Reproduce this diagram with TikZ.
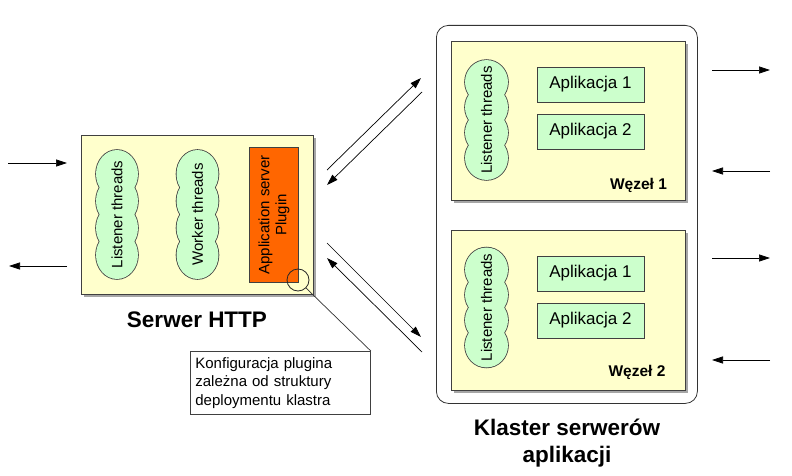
\documentclass[tikz,border=0pt]{standalone}
\usepackage{fontspec}
\setmainfont{Liberation Sans}
\usetikzlibrary{arrows.meta}
\definecolor{boxyellow}{HTML}{FFFFCC}
\definecolor{cloudgreen}{HTML}{CCFFCC}
\definecolor{plugorange}{HTML}{FF6600}
\newcommand{\cloudbg}[5]{%
  \foreach \k in {-1.5,-0.5,0.5,1.5}
    \draw[line width=1.6pt,draw=black!75] (#1,{#2+\k*#5}) ellipse [x radius=#3pt, y radius=#4pt];
  \foreach \k in {-1.5,-0.5,0.5,1.5}
    \fill[cloudgreen] (#1,{#2+\k*#5}) ellipse [x radius=#3pt, y radius=#4pt];
}
\begin{document}
\begin{tikzpicture}[x=1pt,y=-1pt,
  arr/.style={line width=0.7pt,-{Triangle[length=11pt,width=7pt]}},
  panel/.style={draw=black!75,fill=boxyellow,line width=0.8pt,anchor=north west,inner sep=0pt},
  shadowbox/.style={fill=black!35},
  appbox/.style={draw=black!75,fill=cloudgreen,line width=0.8pt,minimum width=107pt,minimum height=35pt,inner sep=0pt,font=\fontsize{17}{20}\selectfont},
  cloudtext/.style={rotate=90,font=\fontsize{15}{18}\selectfont,inner sep=0pt},
  nodelabel/.style={font=\bfseries\fontsize{15.5}{18}\selectfont,inner sep=0pt},
  biglabel/.style={font=\bfseries\fontsize{22.5}{27}\selectfont,align=center,inner sep=0pt}]
\useasboundingbox (0,0) rectangle (792,476);
\fill[white] (0,0) rectangle (792,476);

% cluster outer box
\node[draw=black!80,fill=white,line width=0.8pt,rounded corners=12pt,anchor=north west,minimum width=261pt,minimum height=378pt,inner sep=0pt] (cluster) at (436,25) {};

% shadows
\fill[shadowbox] (84,138) rectangle (316,297);
\fill[shadowbox] (454,44) rectangle (688,203);
\fill[shadowbox] (454,233) rectangle (688,393);

% panels
\node[panel,minimum width=232pt,minimum height=159pt] (http) at (81,135) {};
\node[panel,minimum width=234pt,minimum height=159pt] (n1) at (451,41) {};
\node[panel,minimum width=234pt,minimum height=160pt] (n2) at (451,230) {};

% HTTP server contents
\cloudbg{117}{214.5}{21}{24}{27}
\node[cloudtext] (hlisten) at (117,214.5) {Listener threads};
\cloudbg{197.5}{214.5}{21}{24}{27}
\node[cloudtext] (hworker) at (197.5,214.5) {Worker threads};
\node[draw=black!75,fill=plugorange,line width=0.8pt,anchor=north west,minimum width=49pt,minimum height=135pt,inner sep=0pt] (plugin) at (249,147) {};
\node[cloudtext,align=center,font=\fontsize{15}{17}\selectfont] (plugtext) at (plugin.center) {Application server\\Plugin};
\node[draw=black!85,circle,minimum size=22pt,inner sep=0pt,line width=0.8pt] (mag) at (298,280) {};

\node[biglabel] (httplabel) at (197,320) {Serwer HTTP};

% callout
\node[draw=black!75,fill=white,line width=0.8pt,anchor=north west,minimum width=180pt,minimum height=63pt,inner xsep=5pt,inner ysep=0pt,text width=170pt,align=left,font=\fontsize{15}{18.5}\selectfont] (callout) at (190,351) {Konfiguracja plugina\\zależna od struktury\\deploymentu klastra};
\draw[black!80,line width=0.7pt] (mag.-45) -- (callout.north east);

% node 1 contents
\cloudbg{486.5}{120}{21.5}{22}{25.3}
\node[cloudtext] (l1) at (486.5,120) {Listener threads};
\node[appbox] (a11) at (590.5,84.5) {Aplikacja 1};
\node[appbox] (a12) at (590.5,131.5) {Aplikacja 2};
\node[nodelabel] (w1) at (638.5,185) {Węzeł 1};

% node 2 contents
\cloudbg{486.5}{307.5}{21.5}{22}{25.3}
\node[cloudtext] (l2) at (486.5,307.5) {Listener threads};
\node[appbox] (a21) at (590.5,273.5) {Aplikacja 1};
\node[appbox] (a22) at (590.5,320.5) {Aplikacja 2};
\node[nodelabel] (w2) at (637,372) {Węzeł 2};

\node[biglabel] (clusterlabel) at (567,443.5) {Klaster serwerów\\aplikacji};

% arrow end points
\coordinate (inA) at (8,163);   \coordinate (inB) at (67,163);
\coordinate (outA) at (67,266); \coordinate (outB) at (9,266);
\coordinate (d1a) at (327,170); \coordinate (d1b) at (421,78);
\coordinate (d2a) at (422,92);  \coordinate (d2b) at (327,185);
\coordinate (d3a) at (327,243); \coordinate (d3b) at (421,337);
\coordinate (d4a) at (422,352); \coordinate (d4b) at (327,258);
\coordinate (r1a) at (712,70);  \coordinate (r1b) at (770,70);
\coordinate (r2a) at (770,171); \coordinate (r2b) at (712,171);
\coordinate (r3a) at (712,258); \coordinate (r3b) at (770,258);
\coordinate (r4a) at (770,360); \coordinate (r4b) at (712,360);

\draw[arr] (inA) -- (inB);
\draw[arr] (outA) -- (outB);
\draw[arr] (d1a) -- (d1b);
\draw[arr] (d2a) -- (d2b);
\draw[arr] (d3a) -- (d3b);
\draw[arr] (d4a) -- (d4b);
\draw[arr] (r1a) -- (r1b);
\draw[arr] (r2a) -- (r2b);
\draw[arr] (r3a) -- (r3b);
\draw[arr] (r4a) -- (r4b);
\end{tikzpicture}
\end{document}
